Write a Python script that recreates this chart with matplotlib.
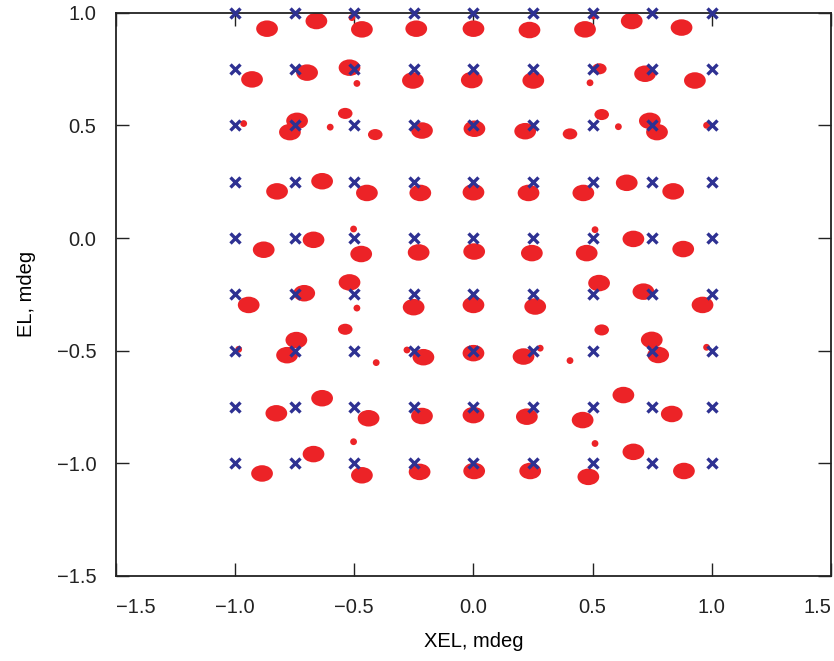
import numpy as np
import matplotlib.pyplot as plt
from matplotlib.path import Path
from matplotlib.transforms import Affine2D

plt.rcParams['font.family'] = ['Liberation Sans', 'DejaVu Sans']

# commanded grid (blue crosses)
grid_vals = [-1.0, -0.75, -0.5, -0.25, 0.0, 0.25, 0.5, 0.75, 1.0]

big_x = [-0.866, -0.659, -0.468, -0.240, 0.000, 0.235, 0.468, 0.664, 0.873,
         -0.929, -0.698, -0.520, -0.254, -0.007, 0.251, 0.720, 0.929,
         -0.740, -0.770, -0.216, 0.004, 0.217, 0.740, 0.770,
         -0.824, -0.635, -0.447, -0.223, 0.000, 0.231, 0.461, 0.643, 0.838,
         -0.880, -0.671, -0.471, -0.230, 0.003, 0.245, 0.475, 0.671, 0.880,
         -0.943, -0.710, -0.520, -0.251, 0.000, 0.259, 0.527, 0.713, 0.961,
         -0.743, -0.782, -0.210, 0.000, 0.210, 0.748, 0.775,
         -0.827, -0.635, -0.440, -0.216, 0.000, 0.224, 0.458, 0.629, 0.832,
         -0.887, -0.671, -0.468, -0.226, 0.003, 0.238, 0.482, 0.671, 0.883]
big_y = [0.929, 0.963, 0.926, 0.929, 0.929, 0.923, 0.926, 0.963, 0.934,
         0.704, 0.734, 0.756, 0.699, 0.701, 0.699, 0.729, 0.699,
         0.520, 0.470, 0.477, 0.485, 0.474, 0.520, 0.470,
         0.207, 0.252, 0.200, 0.200, 0.203, 0.200, 0.200, 0.245, 0.207,
         -0.052, -0.008, -0.071, -0.064, -0.060, -0.067, -0.067, -0.004, -0.049,
         -0.297, -0.245, -0.197, -0.307, -0.297, -0.304, -0.200, -0.238, -0.297,
         -0.453, -0.520, -0.529, -0.511, -0.526, -0.452, -0.519,
         -0.778, -0.711, -0.800, -0.790, -0.786, -0.793, -0.808, -0.697, -0.781,
         -1.045, -0.959, -1.053, -1.038, -1.034, -1.034, -1.060, -0.949, -1.034]

mid_x = [0.528, -0.538, -0.412, 0.405, 0.538, -0.538, 0.538]
mid_y = [0.751, 0.553, 0.459, 0.462, 0.548, -0.405, -0.408]

small_x = [-0.510, -0.489, 0.489, 0.503, -0.964, -0.601, 0.608, 0.978,
           -0.503, 0.510, -0.489, -0.985, -0.408, 0.280, -0.279, 0.405, 0.978,
           -0.503, 0.510]
small_y = [0.978, 0.686, 0.689, 0.985, 0.508, 0.492, 0.494, 0.500,
           0.040, 0.037, -0.311, -0.494, -0.553, -0.489, -0.497, -0.544, -0.485,
           -0.904, -0.912]

gx, gy = np.meshgrid(grid_vals, grid_vals)

fig = plt.figure(figsize=(8.34, 6.61), dpi=100)
ax = fig.add_axes([0.139, 0.1286, 0.8574, 0.8522])

# slightly flattened blob marker for the point clouds
blob = Path.unit_circle().transformed(Affine2D().scale(1.0, 0.76))

red = '#ec2327'
ax.scatter(big_x, big_y, s=245, marker=blob, color=red, edgecolors='none', zorder=2)
ax.scatter(mid_x, mid_y, s=110, marker=blob, color=red, edgecolors='none', zorder=2)
ax.scatter(small_x, small_y, s=24, color=red, edgecolors='none', zorder=2)
ax.plot(gx.ravel(), gy.ravel(), linestyle='none', marker='x', markersize=6.5,
        markeredgewidth=2.4, color='#2e3192', zorder=3, clip_on=False)

ax.set_xlim(-1.5, 1.5)
ax.set_ylim(-1.5, 1.0)
ax.set_xticks([-1.5, -1.0, -0.5, 0.0, 0.5, 1.0, 1.5])
ax.set_yticks([-1.5, -1.0, -0.5, 0.0, 0.5, 1.0])
ax.set_xticklabels(['\u22121.5', '\u22121.0', '\u22120.5', '0.0', '0.5', '1.0', '1.5'])
ax.set_yticklabels(['\u22121.5', '\u22121.0', '\u22120.5', '0.0', '0.5', '1.0'])
ax.tick_params(direction='in', length=9.5, width=1.0, top=True, right=True,
               labelsize=14.5, colors='#222222')
ax.tick_params(axis='x', pad=16)
ax.tick_params(axis='y', pad=14)
ax.get_xticklabels()[0].set_horizontalalignment('left')
ax.get_xticklabels()[-1].set_horizontalalignment('right')
for sp in ax.spines.values():
    sp.set_linewidth(1.3)
    sp.set_color('#222222')

ax.set_xlabel('XEL, mdeg', fontsize=14.5, labelpad=11)
ax.set_ylabel('EL, mdeg', fontsize=14.5, labelpad=15)

fig.savefig('out.png', dpi=100)
